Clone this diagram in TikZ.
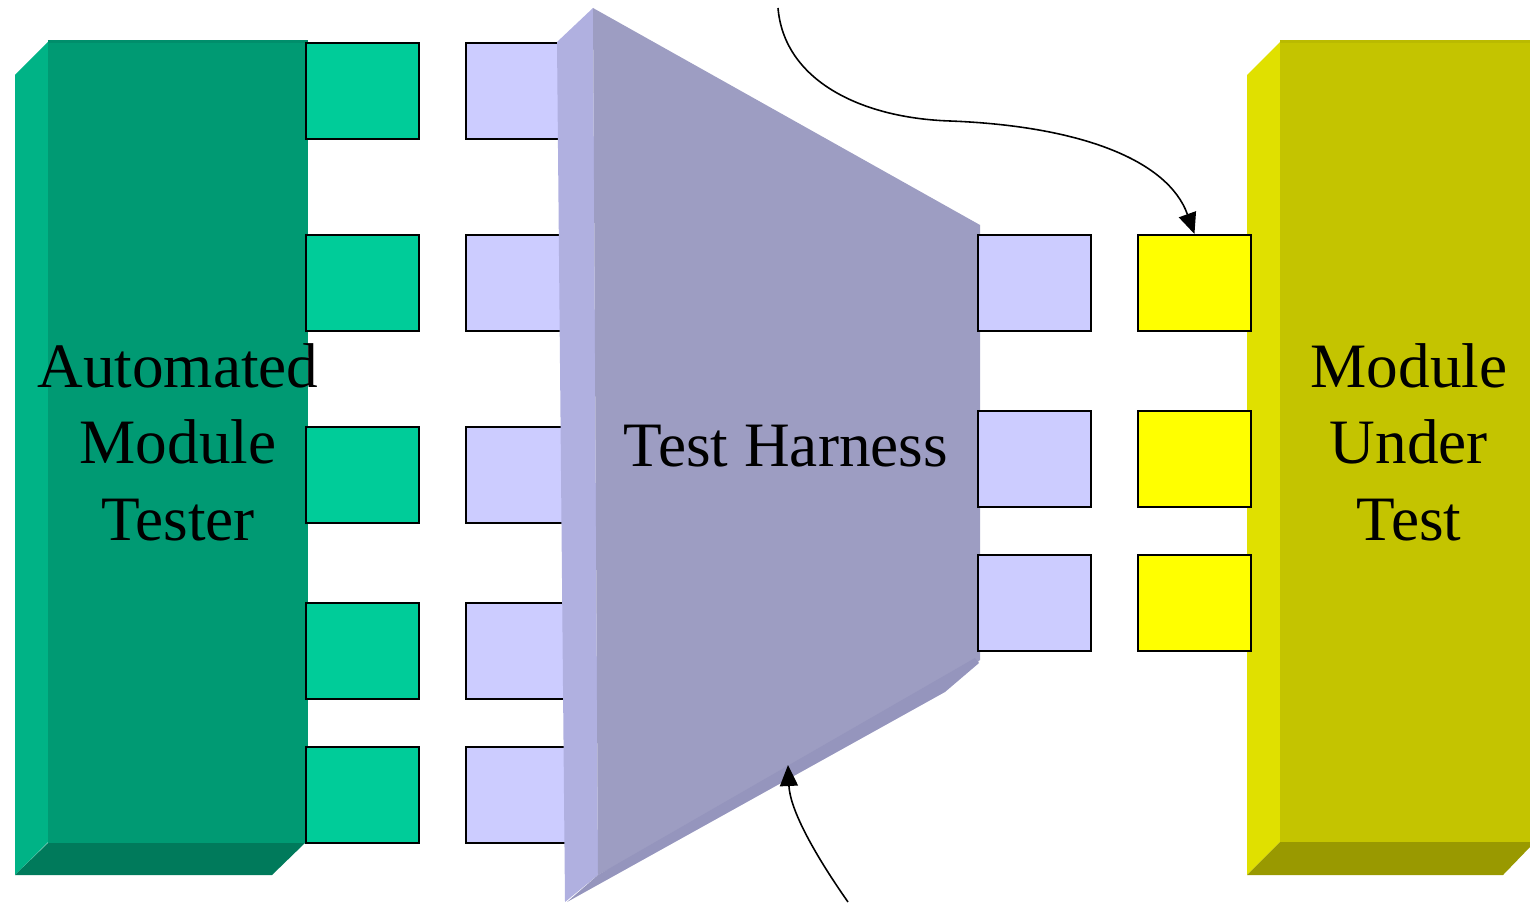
\documentclass[tikz,border=0pt]{standalone}
\usepackage{fontspec}
\setmainfont{Liberation Serif}
\usepackage{xcolor}
\usetikzlibrary{arrows.meta,positioning}

\definecolor{amtFront}{RGB}{0,154,115}
\definecolor{amtSide}{RGB}{0,179,134}
\definecolor{amtBottom}{RGB}{0,122,91}
\definecolor{amtTop}{RGB}{0,142,107}
\definecolor{amtPort}{RGB}{0,204,153}
\definecolor{thFront}{RGB}{157,157,194}
\definecolor{thSide}{RGB}{176,176,224}
\definecolor{thEdge}{RGB}{149,149,189}
\definecolor{thPort}{RGB}{204,204,255}
\definecolor{mutFront}{RGB}{196,196,0}
\definecolor{mutSide}{RGB}{224,224,0}
\definecolor{mutBottom}{RGB}{153,153,0}
\definecolor{mutTop}{RGB}{186,186,0}
\definecolor{mutPort}{RGB}{255,255,0}

\begin{document}
\begin{tikzpicture}[x=0.02cm, y=-0.02cm,
  port/.style={draw, line width=1.1pt, anchor=north west, inner sep=0pt,
               minimum width=2.26cm, minimum height=1.93cm},
  gsq/.style={port, fill=amtPort},
  lsq/.style={port, fill=thPort},
  ysq/.style={port, fill=mutPort},
  lbl/.style={align=center, font=\fontsize{36}{43.5}\selectfont},
  arr/.style={-{Triangle[length=4.2mm, width=3.6mm]}, line width=0.9pt}]
\useasboundingbox (0,0) rectangle (1530,902);

% tester block
\fill[amtSide] (15,75) -- (48,42) -- (48,842) -- (15,875) -- cycle;
\fill[amtBottom] (15,875) -- (48,843) -- (305,843) -- (272,875) -- cycle;
\fill[amtFront] (48,40) rectangle (308,843);
\fill[amtTop] (48,40) rectangle (308,43);

% module block
\fill[mutSide] (1247,75) -- (1280,42) -- (1280,842) -- (1247,875) -- cycle;
\fill[mutBottom] (1247,875) -- (1280,842) -- (1530,842) -- (1530,847) -- (1503,875) -- cycle;
\fill[mutFront] (1280,40) rectangle (1530,842);
\fill[mutTop] (1280,40) rectangle (1530,43);

% ports on the tester side
\foreach \r [count=\i] in {42,234,426,602,746} {
  \node[gsq] (a\i) at (305,\r) {};
  \node[lsq] (b\i) at (465,\r) {};
}

% harness body
\fill[thSide] (557,42) -- (593,8) -- (598,875) -- (565,902) -- cycle;
\fill[thFront] (593,8) -- (980,225) -- (980,660) -- (945,690) -- (598,875) -- cycle;
\fill[thEdge] (598,875) -- (975,658) -- (979,663) -- (945,692) -- (567,902) -- cycle;

% ports on the module side
\foreach \r [count=\i] in {234,410,554} {
  \node[lsq] (c\i) at (977,\r) {};
  \node[ysq] (y\i) at (1137,\r) {};
}

\node[lbl] (amt) at (178,442) {Automated\\Module\\Tester};
\node[lbl] (th) at (786,446) {Test Harness};
\node[lbl] (mut) at (1409,442) {Module\\Under\\Test};

\coordinate (top) at (778,8);
\coordinate (bot) at (848,902);
\coordinate (hit) at (788,765);
\draw[arr] (top) .. controls (784,80) and (860,118) .. (950,121)
  .. controls (1080,126) and (1168,160) .. (y1.north);
\draw[arr] (bot) .. controls (815,855) and (790,810) .. (hit);
\end{tikzpicture}
\end{document}
